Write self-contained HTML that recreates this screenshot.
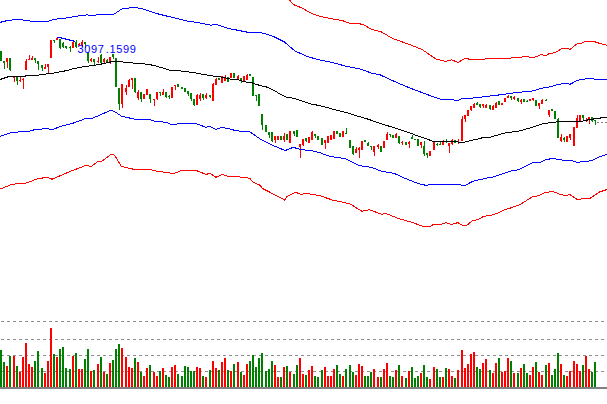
<!DOCTYPE html><html><head><meta charset="utf-8"><style>html,body{margin:0;padding:0;background:#fff;width:607px;height:404px;overflow:hidden}svg{display:block}text{font-family:"Liberation Sans",sans-serif}</style></head><body>
<svg width="607" height="404" viewBox="0 0 607 404">
<rect width="607" height="404" fill="#fff"/>
<path fill="#008000" d="M0 51h2v10h-2zM3 61h2v2h-2zM4 63h1v6h-1zM9 58h2v12h-2zM10 70h1v1h-1zM16 77h2v4h-2zM17 81h1v4h-1zM34 58h2v2h-2zM35 60h1v3h-1zM37 61h2v3h-2zM38 64h1v6h-1zM41 65h2v3h-2zM42 68h1v3h-1zM53 40h2v1h-2zM54 41h1v2h-1zM59 39h2v9h-2zM60 48h1v1h-1zM62 43h2v4h-2zM63 42h1v1h-1zM63 47h1v1h-1zM65 46h2v2h-2zM66 48h1v1h-1zM69 47h2v1h-2zM70 46h1v1h-1zM70 48h1v4h-1zM75 42h2v5h-2zM76 40h1v2h-1zM76 47h1v1h-1zM84 42h2v2h-2zM85 44h1v4h-1zM87 52h2v9h-2zM88 61h1v2h-1zM93 59h2v3h-2zM94 62h1v3h-1zM100 55h2v8h-2zM101 54h1v1h-1zM101 63h1v1h-1zM106 60h2v2h-2zM107 59h1v1h-1zM107 62h1v1h-1zM112 54h2v3h-2zM113 57h1v2h-1zM115 58h2v29h-2zM118 88h2v16h-2zM119 104h1v6h-1zM134 78h2v14h-2zM135 92h1v1h-1zM140 92h2v7h-2zM141 99h1v3h-1zM149 94h2v5h-2zM150 99h1v4h-1zM159 92h2v1h-2zM160 93h1v3h-1zM165 92h2v5h-2zM166 97h1v1h-1zM168 96h2v1h-2zM169 95h1v1h-1zM169 97h1v2h-1zM177 84h2v3h-2zM181 87h2v2h-2zM184 88h2v4h-2zM187 91h2v3h-2zM188 94h1v2h-1zM190 93h2v6h-2zM191 99h1v2h-1zM193 99h2v6h-2zM194 105h1v1h-1zM202 94h2v4h-2zM203 98h1v2h-1zM209 95h2v2h-2zM210 97h1v1h-1zM218 78h2v2h-2zM227 77h2v5h-2zM233 73h2v5h-2zM240 78h2v3h-2zM241 81h1v2h-1zM249 74h2v2h-2zM252 77h2v19h-2zM255 95h2v1h-2zM256 96h1v5h-1zM258 94h2v12h-2zM261 114h2v11h-2zM262 125h1v5h-1zM265 125h2v7h-2zM268 132h2v3h-2zM269 135h1v3h-1zM271 132h2v9h-2zM272 141h1v1h-1zM280 136h2v4h-2zM286 134h2v6h-2zM293 131h2v3h-2zM294 134h1v2h-1zM296 130h2v7h-2zM305 138h2v3h-2zM306 141h1v1h-1zM314 134h2v2h-2zM315 136h1v2h-1zM317 136h2v4h-2zM321 138h2v7h-2zM336 131h2v3h-2zM339 133h2v4h-2zM345 133h2v1h-2zM346 128h1v5h-1zM349 140h2v8h-2zM352 146h2v8h-2zM353 154h1v1h-1zM364 140h2v2h-2zM367 143h2v3h-2zM368 142h1v1h-1zM370 146h2v1h-2zM371 147h1v3h-1zM380 146h2v6h-2zM389 134h2v1h-2zM390 135h1v2h-1zM392 135h2v3h-2zM398 136h2v7h-2zM399 143h1v1h-1zM405 142h2v3h-2zM411 137h2v2h-2zM412 135h1v2h-1zM414 139h2v1h-2zM417 139h2v7h-2zM423 146h2v8h-2zM424 141h1v5h-1zM424 154h1v2h-1zM426 153h2v2h-2zM427 155h1v3h-1zM436 144h2v1h-2zM437 143h1v1h-1zM437 145h1v1h-1zM439 144h2v1h-2zM440 142h1v2h-1zM445 141h2v1h-2zM446 139h1v2h-1zM446 142h1v1h-1zM454 140h2v3h-2zM476 103h2v2h-2zM477 102h1v1h-1zM479 104h2v3h-2zM480 107h1v1h-1zM489 105h2v4h-2zM490 109h1v1h-1zM498 101h2v4h-2zM510 96h2v2h-2zM511 98h1v2h-1zM517 98h2v3h-2zM518 101h1v1h-1zM523 99h2v3h-2zM526 101h2v1h-2zM527 100h1v1h-1zM535 100h2v6h-2zM545 100h2v1h-2zM546 99h1v1h-1zM551 109h2v2h-2zM554 111h2v8h-2zM557 119h2v19h-2zM558 118h1v1h-1zM563 138h2v2h-2zM564 137h1v1h-1zM564 140h1v2h-1zM582 115h2v3h-2zM583 118h1v2h-1zM591 117h2v4h-2zM592 121h1v1h-1zM594 120h2v1h-2zM595 121h1v4h-1z"/>
<path fill="#ff0000" d="M6 58h2v4h-2zM7 62h1v6h-1zM13 76h2v2h-2zM14 78h1v4h-1zM19 80h2v1h-2zM20 76h1v4h-1zM20 81h1v1h-1zM22 79h2v1h-2zM23 78h1v1h-1zM23 80h1v9h-1zM25 61h2v9h-2zM26 59h1v2h-1zM28 59h2v1h-2zM29 55h1v4h-1zM31 58h2v2h-2zM32 56h1v2h-1zM44 67h2v2h-2zM45 64h1v3h-1zM47 64h2v3h-2zM48 67h1v6h-1zM50 40h2v18h-2zM56 38h2v2h-2zM72 42h2v6h-2zM78 44h2v2h-2zM79 43h1v1h-1zM81 42h2v3h-2zM82 40h1v2h-1zM82 45h1v2h-1zM90 59h2v2h-2zM91 58h1v1h-1zM91 61h1v1h-1zM97 61h2v1h-2zM98 57h1v4h-1zM98 62h1v1h-1zM103 59h2v3h-2zM104 58h1v1h-1zM104 62h1v1h-1zM109 57h2v5h-2zM110 62h1v2h-1zM121 84h2v20h-2zM122 104h1v4h-1zM125 88h2v4h-2zM126 85h1v3h-1zM126 92h1v3h-1zM128 80h2v7h-2zM129 79h1v1h-1zM131 78h2v2h-2zM132 80h1v9h-1zM137 92h2v6h-2zM138 90h1v2h-1zM138 98h1v2h-1zM143 94h2v5h-2zM146 89h2v6h-2zM153 99h2v1h-2zM154 100h1v6h-1zM156 92h2v7h-2zM157 99h1v1h-1zM162 92h2v3h-2zM163 89h1v3h-1zM171 87h2v11h-2zM174 85h2v1h-2zM175 86h1v4h-1zM196 95h2v10h-2zM197 94h1v1h-1zM199 95h2v4h-2zM200 93h1v2h-1zM200 99h1v2h-1zM205 95h2v3h-2zM206 93h1v2h-1zM206 98h1v1h-1zM212 84h2v17h-2zM213 83h1v1h-1zM215 79h2v6h-2zM216 78h1v1h-1zM221 76h2v7h-2zM224 77h2v4h-2zM225 75h1v2h-1zM230 73h2v5h-2zM237 76h2v3h-2zM238 75h1v1h-1zM238 79h1v1h-1zM243 76h2v5h-2zM246 75h2v5h-2zM247 74h1v1h-1zM274 136h2v4h-2zM275 140h1v3h-1zM277 136h2v4h-2zM283 136h2v4h-2zM284 133h1v3h-1zM284 140h1v2h-1zM289 131h2v12h-2zM299 144h2v3h-2zM300 147h1v11h-1zM302 139h2v6h-2zM303 145h1v1h-1zM308 137h2v6h-2zM311 132h2v8h-2zM312 131h1v1h-1zM324 140h2v3h-2zM325 143h1v6h-1zM327 136h2v7h-2zM330 135h2v5h-2zM333 131h2v8h-2zM342 131h2v6h-2zM355 149h2v4h-2zM356 147h1v2h-1zM358 148h2v2h-2zM359 147h1v1h-1zM359 150h1v8h-1zM361 141h2v9h-2zM373 146h2v6h-2zM374 152h1v4h-1zM377 145h2v2h-2zM378 144h1v1h-1zM378 147h1v2h-1zM383 141h2v7h-2zM386 134h2v6h-2zM387 132h1v2h-1zM395 134h2v4h-2zM396 133h1v1h-1zM401 142h2v1h-2zM402 141h1v1h-1zM402 143h1v2h-1zM408 142h2v2h-2zM409 141h1v1h-1zM409 144h1v4h-1zM420 142h2v3h-2zM421 145h1v3h-1zM429 151h2v5h-2zM433 142h2v8h-2zM442 141h2v4h-2zM443 140h1v1h-1zM448 143h2v3h-2zM449 146h1v7h-1zM451 140h2v4h-2zM452 139h1v1h-1zM452 144h1v1h-1zM457 141h2v1h-2zM458 139h1v2h-1zM458 142h1v2h-1zM461 119h2v22h-2zM462 116h1v3h-1zM464 115h2v4h-2zM465 119h1v3h-1zM467 110h2v6h-2zM470 106h2v4h-2zM471 110h1v1h-1zM473 104h2v4h-2zM474 103h1v1h-1zM482 104h2v2h-2zM483 106h1v2h-1zM485 105h2v3h-2zM486 104h1v1h-1zM492 106h2v4h-2zM493 105h1v1h-1zM495 103h2v5h-2zM496 102h1v1h-1zM501 103h2v2h-2zM504 98h2v4h-2zM507 96h2v2h-2zM508 95h1v1h-1zM513 97h2v2h-2zM514 96h1v1h-1zM514 99h1v1h-1zM520 100h2v2h-2zM521 99h1v1h-1zM521 102h1v2h-1zM529 99h2v2h-2zM532 98h2v2h-2zM533 100h1v1h-1zM538 103h2v3h-2zM539 106h1v3h-1zM541 100h2v4h-2zM542 99h1v1h-1zM548 110h2v5h-2zM549 115h1v2h-1zM560 137h2v4h-2zM561 134h1v3h-1zM561 141h1v1h-1zM566 136h2v6h-2zM569 134h2v4h-2zM570 138h1v2h-1zM573 127h2v19h-2zM576 118h2v10h-2zM577 115h1v3h-1zM579 115h2v6h-2zM585 120h2v1h-2zM586 118h1v2h-1zM586 121h1v1h-1zM588 117h2v2h-2zM589 119h1v5h-1z"/>
<polyline fill="none" stroke="#ff0000" stroke-width="1" shape-rendering="crispEdges" points="286.0,-4.0 289.5,0.0 293.2,4.5 301.9,7.9 311.8,13.6 321.7,16.8 334.0,19.3 341.5,20.3 348.9,23.0 356.3,23.0 363.8,24.8 371.2,29.2 381.1,31.7 392.4,38.4 409.7,44.6 422.1,49.5 435.7,58.9 445.6,61.4 451.8,59.9 458.0,62.4 465.5,58.2 471.8,59.9 486.5,58.9 509.0,58.2 520.0,57.2 527.2,56.5 530.0,57.2 534.3,57.2 541.5,54.6 545.8,55.5 550.1,53.2 554.4,52.9 561.5,48.9 567.3,48.3 570.1,49.3 577.3,43.6 581.6,43.2 585.9,41.2 593.1,41.2 600.2,43.6 609.0,45.8"/>
<polyline fill="none" stroke="#0000ff" stroke-width="1" shape-rendering="crispEdges" points="-2.0,22.6 0.0,22.4 7.9,20.4 17.8,19.4 25.7,20.4 32.7,21.4 49.5,21.0 54.5,19.2 65.3,18.2 79.2,15.8 87.1,14.9 93.0,15.4 101.0,14.3 113.6,14.4 122.3,8.7 134.7,7.4 144.6,9.4 156.9,13.6 171.8,17.3 186.6,21.0 199.0,22.8 211.4,25.2 216.3,24.3 228.7,28.5 238.6,30.4 249.9,32.7 254.9,32.2 264.8,33.4 274.7,37.1 284.6,42.1 294.5,50.7 306.8,56.4 319.2,59.9 331.6,62.4 346.4,66.3 361.3,69.3 371.2,73.0 380.0,74.8 394.9,81.7 409.7,87.9 424.6,93.6 439.4,99.0 454.0,100.0 457.0,101.0 462.0,98.4 475.8,97.9 485.7,96.4 495.6,95.5 501.5,94.5 510.4,93.5 516.3,92.5 520.0,92.2 531.5,91.2 541.5,88.3 550.0,86.9 558.7,84.3 567.3,83.2 570.1,84.3 577.3,80.3 583.0,79.3 591.6,78.3 594.5,79.3 609.0,79.3"/>
<polyline fill="none" stroke="#000" stroke-width="1" shape-rendering="crispEdges" points="-2.0,80.0 0.0,79.5 9.0,76.5 25.0,76.5 25.5,75.5 38.0,75.5 40.0,74.5 52.0,73.5 56.0,72.5 62.0,71.5 68.0,70.3 73.0,68.8 84.0,66.6 93.0,65.5 100.0,64.5 103.0,63.5 109.0,62.5 112.0,61.5 120.0,61.5 124.8,62.4 144.6,63.9 154.0,65.4 171.0,70.5 180.8,71.0 187.8,71.8 195.7,73.0 203.6,74.4 211.5,75.9 219.4,76.7 230.3,79.0 236.6,79.5 242.8,81.1 247.0,82.4 252.1,82.8 255.3,84.2 263.6,86.3 267.7,87.3 274.0,90.4 280.0,94.0 286.6,97.2 293.2,98.2 311.6,104.2 319.5,105.5 332.7,109.1 345.9,112.4 355.0,115.3 368.2,119.2 381.4,123.9 394.5,127.8 405.5,131.4 412.4,133.9 417.4,135.9 425.0,138.3 432.8,141.3 449.6,141.6 463.5,142.3 471.4,140.3 477.3,139.3 481.9,137.9 490.0,137.4 499.2,134.5 505.8,132.9 519.7,130.9 533.6,126.9 544.1,123.4 551.0,122.7 557.7,121.8 576.7,121.9 581.7,121.1 587.7,120.5 588.0,119.5 593.9,119.5 594.0,118.5 600.0,118.5 600.2,117.5 609.0,117.5"/>
<polyline fill="none" stroke="#0000ff" stroke-width="1" shape-rendering="crispEdges" points="-2.0,137.0 0.0,136.4 12.4,132.2 27.2,131.7 34.7,129.7 47.0,128.5 52.0,129.7 61.9,126.0 74.3,122.8 85.4,118.6 92.8,118.1 101.5,114.4 110.1,110.4 113.9,111.1 121.3,116.1 128.7,117.8 134.9,119.3 150.0,119.6 155.0,121.2 166.5,122.4 171.4,124.5 176.4,124.5 178.0,123.2 194.5,123.2 199.4,124.8 206.0,127.3 209.3,126.1 215.9,129.4 222.5,127.3 230.0,129.1 236.6,130.8 249.8,131.9 254.7,135.2 261.3,139.8 267.9,143.1 276.1,146.8 285.2,150.5 293.4,147.3 300.8,149.7 310.7,150.5 320.6,153.0 330.0,156.4 344.8,158.6 359.7,165.7 371.2,167.3 381.1,171.1 394.3,173.4 404.1,178.0 419.0,183.8 425.9,185.3 431.9,184.4 460.0,184.8 464.5,185.6 473.4,181.1 485.3,178.4 492.7,177.0 503.1,173.7 510.0,171.2 518.0,169.8 532.4,162.9 540.4,162.3 546.0,159.4 553.1,158.6 562.7,160.2 572.3,160.7 577.1,162.3 586.7,161.3 591.5,160.7 597.9,157.5 609.0,153.8"/>
<polyline fill="none" stroke="#ff0000" stroke-width="1" shape-rendering="crispEdges" points="-2.0,190.0 0.0,189.1 12.4,184.2 27.2,182.9 35.9,179.2 47.0,177.2 52.0,179.2 69.3,171.8 85.4,165.6 91.6,166.3 97.8,161.4 101.5,161.4 111.4,154.0 114.4,155.0 121.3,166.3 133.7,169.3 150.0,169.6 156.6,171.2 171.4,173.2 176.4,172.9 181.3,170.2 195.3,170.2 201.1,172.4 206.0,174.5 210.1,173.2 215.9,177.3 222.5,174.5 227.4,176.1 235.7,176.5 242.3,177.3 250.0,178.2 252.5,181.9 259.9,185.2 262.4,188.5 269.8,192.2 284.6,200.0 287.1,196.4 295.3,192.2 301.1,194.4 306.0,193.4 319.2,195.5 332.4,200.0 350.0,203.8 361.7,211.2 369.1,209.7 381.5,214.2 386.4,213.7 398.8,218.6 413.7,222.8 420.0,225.5 423.0,226.4 430.4,226.4 433.4,224.5 440.8,224.5 446.0,222.6 451.9,224.5 457.8,222.6 463.0,225.5 467.5,224.9 471.9,221.1 479.3,219.0 483.8,216.3 489.7,215.6 497.2,213.4 504.6,209.6 510.0,208.2 519.6,204.8 526.0,200.8 532.4,196.8 538.8,195.7 545.1,192.5 553.1,191.5 559.5,194.1 564.3,195.5 569.9,194.7 577.1,199.5 581.9,198.9 589.9,198.4 599.5,192.0 609.0,188.8"/>
<line x1="1" y1="321.5" x2="607" y2="321.5" stroke="#8c8c8c" stroke-width="1" stroke-dasharray="3 3" shape-rendering="crispEdges"/>
<line x1="1" y1="339.5" x2="607" y2="339.5" stroke="#8c8c8c" stroke-width="1" stroke-dasharray="3 3" shape-rendering="crispEdges"/>
<line x1="1" y1="355.5" x2="607" y2="355.5" stroke="#8c8c8c" stroke-width="1" stroke-dasharray="3 3" shape-rendering="crispEdges"/>
<line x1="1" y1="371.5" x2="607" y2="371.5" stroke="#8c8c8c" stroke-width="1" stroke-dasharray="3 3" shape-rendering="crispEdges"/>
<rect x="0" y="387" width="607" height="2" fill="#808080"/>
<path fill="#008000" d="M0 350h2v37h-2zM3 362h2v25h-2zM9 356h2v31h-2zM16 366h2v21h-2zM34 361h2v26h-2zM37 351h2v36h-2zM41 368h2v19h-2zM53 354h2v33h-2zM59 349h2v38h-2zM62 347h2v40h-2zM65 368h2v19h-2zM69 369h2v18h-2zM75 353h2v34h-2zM84 359h2v28h-2zM87 349h2v38h-2zM93 370h2v17h-2zM100 357h2v30h-2zM106 374h2v13h-2zM112 360h2v27h-2zM115 349h2v38h-2zM118 344h2v43h-2zM134 358h2v29h-2zM140 372h2v15h-2zM149 365h2v22h-2zM159 371h2v16h-2zM165 375h2v12h-2zM168 377h2v10h-2zM177 374h2v13h-2zM181 376h2v11h-2zM184 366h2v21h-2zM187 367h2v20h-2zM190 371h2v16h-2zM193 371h2v16h-2zM202 376h2v11h-2zM209 370h2v17h-2zM218 370h2v17h-2zM227 370h2v17h-2zM233 364h2v23h-2zM240 372h2v15h-2zM249 361h2v26h-2zM252 355h2v32h-2zM255 367h2v20h-2zM258 358h2v29h-2zM261 353h2v34h-2zM265 371h2v16h-2zM268 369h2v18h-2zM271 361h2v26h-2zM280 377h2v10h-2zM286 366h2v21h-2zM293 374h2v13h-2zM296 365h2v22h-2zM305 375h2v12h-2zM314 376h2v11h-2zM317 377h2v10h-2zM321 370h2v17h-2zM336 365h2v22h-2zM339 374h2v13h-2zM345 369h2v18h-2zM349 365h2v22h-2zM352 372h2v15h-2zM364 376h2v11h-2zM367 376h2v11h-2zM370 372h2v15h-2zM380 377h2v10h-2zM389 376h2v11h-2zM392 377h2v10h-2zM398 365h2v22h-2zM405 378h2v9h-2zM411 367h2v20h-2zM414 378h2v9h-2zM417 376h2v11h-2zM423 365h2v22h-2zM426 377h2v10h-2zM436 369h2v18h-2zM439 377h2v10h-2zM445 368h2v19h-2zM454 378h2v9h-2zM476 367h2v20h-2zM479 369h2v18h-2zM489 370h2v17h-2zM498 358h2v29h-2zM510 361h2v26h-2zM517 373h2v14h-2zM523 364h2v23h-2zM526 373h2v14h-2zM535 362h2v25h-2zM545 365h2v22h-2zM551 375h2v12h-2zM554 369h2v18h-2zM557 353h2v34h-2zM563 375h2v12h-2zM582 365h2v22h-2zM591 372h2v15h-2zM594 362h2v25h-2z"/>
<path fill="#ff0000" d="M6 366h2v21h-2zM13 356h2v31h-2zM19 372h2v15h-2zM22 357h2v30h-2zM25 343h2v44h-2zM28 364h2v23h-2zM31 367h2v20h-2zM44 373h2v14h-2zM47 361h2v26h-2zM50 328h2v59h-2zM56 357h2v30h-2zM72 356h2v31h-2zM78 369h2v18h-2zM81 369h2v18h-2zM90 371h2v16h-2zM97 364h2v23h-2zM103 372h2v15h-2zM109 363h2v24h-2zM121 348h2v39h-2zM125 357h2v30h-2zM128 367h2v20h-2zM131 368h2v19h-2zM137 362h2v25h-2zM143 376h2v11h-2zM146 368h2v19h-2zM153 372h2v15h-2zM156 376h2v11h-2zM162 368h2v19h-2zM171 367h2v20h-2zM174 365h2v22h-2zM196 367h2v20h-2zM199 368h2v19h-2zM205 377h2v10h-2zM212 361h2v26h-2zM215 368h2v19h-2zM221 362h2v25h-2zM224 358h2v29h-2zM230 371h2v16h-2zM237 362h2v25h-2zM243 375h2v12h-2zM246 364h2v23h-2zM274 365h2v22h-2zM277 377h2v10h-2zM283 367h2v20h-2zM289 372h2v15h-2zM299 358h2v29h-2zM302 374h2v13h-2zM308 370h2v17h-2zM311 366h2v21h-2zM324 367h2v20h-2zM327 376h2v11h-2zM330 376h2v11h-2zM333 369h2v18h-2zM342 376h2v11h-2zM355 375h2v12h-2zM358 364h2v23h-2zM361 366h2v21h-2zM373 369h2v18h-2zM377 377h2v10h-2zM383 369h2v18h-2zM386 363h2v24h-2zM395 370h2v17h-2zM401 376h2v11h-2zM408 371h2v16h-2zM420 373h2v14h-2zM429 379h2v8h-2zM433 367h2v20h-2zM442 377h2v10h-2zM448 369h2v18h-2zM451 376h2v11h-2zM457 370h2v17h-2zM461 350h2v37h-2zM464 368h2v19h-2zM467 364h2v23h-2zM470 354h2v33h-2zM473 352h2v35h-2zM482 363h2v24h-2zM485 359h2v28h-2zM492 373h2v14h-2zM495 363h2v24h-2zM501 372h2v15h-2zM504 371h2v16h-2zM507 358h2v29h-2zM513 373h2v14h-2zM520 368h2v19h-2zM529 375h2v12h-2zM532 367h2v20h-2zM538 372h2v15h-2zM541 375h2v12h-2zM548 363h2v24h-2zM560 364h2v23h-2zM566 376h2v11h-2zM569 371h2v16h-2zM573 361h2v26h-2zM576 364h2v23h-2zM579 371h2v16h-2zM585 356h2v31h-2zM588 369h2v18h-2z"/>
<line x1="597" y1="122.5" x2="607" y2="122.5" stroke="#808080" stroke-width="1" stroke-dasharray="2 2" shape-rendering="crispEdges"/>
<polyline fill="none" stroke="#0000ff" stroke-width="1" shape-rendering="crispEdges" points="57,37.5 59.5,37.5 75.5,41.5"/>
<text x="77.5" y="53" font-size="11" letter-spacing="0.62" fill="#0000ff">3097<tspan dx="1.3">.1599</tspan></text>
</svg></body></html>
